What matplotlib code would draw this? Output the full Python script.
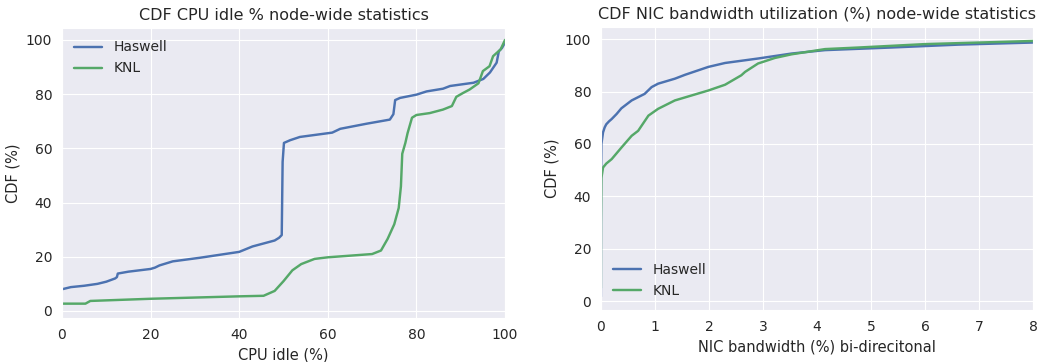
"""
CDF of CPU idle and NIC bandwidth (node-wide), Haswell vs KNL
- values read off the original picture
"""

import matplotlib
matplotlib.use('Agg')
import matplotlib.pyplot as plt
import seaborn as sns

#=================================================================
# Data: CPU idle (%) vs CDF (%)

cpu_has_x=[0,2,5,8,10,12,12.4,12.6,15,20,21,22,25,31,40,43,48,49,49.6,49.8,50.1,
           51.5,53.7,61,62.8,68.8,74,74.8,75.2,76.3,80,82.3,86,87.6,92.9,95.1,96.6,
           98.1,98.6,99.3,100]
cpu_has_y=[8,8.8,9.3,10,10.8,12,12.5,13.8,14.5,15.5,16,16.8,18.3,19.6,21.8,23.8,26,27,
           28,55,62,63,64.2,65.8,67.2,69.1,70.6,72.6,77.8,78.6,79.8,81,82,83,84.2,85.6,
           88,91.6,95.8,97,99]

cpu_knl_x=[0,5.3,6.4,20,40,45.5,48,50,52,54,57,60,70,72,73.5,75,76,76.5,76.8,77.5,78,79,
           80,83,86,88,89,90.5,92,94,95,96.5,97.3,99,100]
cpu_knl_y=[2.7,2.7,3.7,4.5,5.4,5.6,7.4,11,15,17.3,19.2,19.8,21,22.3,26.6,32,38,46,58,62,
           65.6,71.3,72.3,73,74.3,75.6,79,80.4,81.7,84,88.5,90.3,94,96.5,100]

#=================================================================
# Data: NIC bandwidth (%) vs CDF (%)

nic_has_x=[0,0.002,0.01,0.04,0.07,0.1,0.15,0.2,0.29,0.38,0.57,0.81,0.94,1.06,1.37,1.56,
           1.99,2.3,2.91,3.53,4.15,5.38,6.62,8]
nic_has_y=[1.7,45,60,64.4,66.3,67.5,68.6,69.5,71.4,73.6,76.6,79.1,81.7,83,84.9,86.4,
           89.4,90.9,92.6,94.5,95.8,96.8,97.9,98.7]

nic_knl_x=[0,0.002,0.01,0.04,0.1,0.2,0.38,0.57,0.69,0.88,1.06,1.37,1.68,1.99,2.3,2.6,
           2.67,2.91,3.22,3.53,4.15,4.77,6,8]
nic_knl_y=[5,30,47,51,52.5,54.2,58.6,63.1,65,70.8,73.4,76.6,78.5,80.4,82.6,86.2,87.5,
           90.7,92.8,94.2,96.2,96.8,98.1,99.3]

labels=['Haswell','KNL']
mycolors=['#4C72B0','#55A868']

#=================================================================

sns.set_style('darkgrid')
plt.rcParams['font.family']=['DejaVu Sans']

fig=plt.figure(figsize=(10.45,3.62),dpi=100)

ax1=fig.add_axes([0.0593,0.1215,0.424,0.8012])
ax1.plot(cpu_has_x,cpu_has_y,color=mycolors[0],lw=1.75,label=labels[0])
ax1.plot(cpu_knl_x,cpu_knl_y,color=mycolors[1],lw=1.75,label=labels[1])
ax1.set_xlim(0,100)
ax1.set_ylim(-2.6,104.4)
ax1.set_title('CDF CPU idle % node-wide statistics',fontsize=11.5)
ax1.set_xlabel('CPU idle (%)',fontsize=10.5)
ax1.set_ylabel('CDF (%)',fontsize=10.5)
ax1.tick_params(labelsize=10)
ax1.legend(loc='upper left',frameon=False,fontsize=10)

ax2=fig.add_axes([0.575,0.1436,0.4135,0.7816])
ax2.plot(nic_has_x,nic_has_y,color=mycolors[0],lw=1.75,label=labels[0])
ax2.plot(nic_knl_x,nic_knl_y,color=mycolors[1],lw=1.75,label=labels[1])
ax2.set_xlim(0,8)
ax2.set_ylim(-3.4,104.6)
ax2.set_title('CDF NIC bandwidth utilization (%) node-wide statistics',fontsize=11.5)
ax2.set_xlabel('NIC bandwidth (%) bi-direcitonal',fontsize=10.5)
ax2.set_ylabel('CDF (%)',fontsize=10.5)
ax2.tick_params(labelsize=10)
ax2.legend(loc='lower left',frameon=False,fontsize=10)

plt.savefig('out.png',dpi=100)
